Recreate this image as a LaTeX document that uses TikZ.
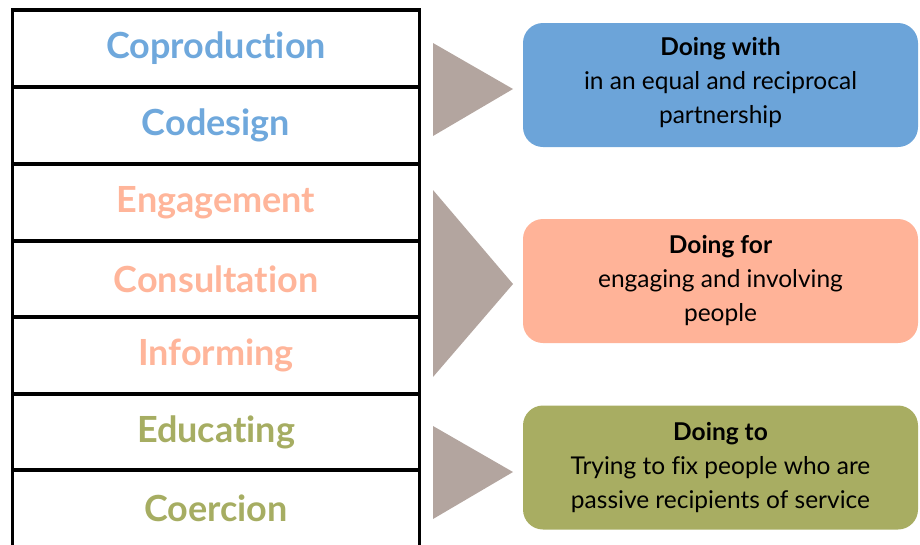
\documentclass[tikz,border=0pt]{standalone}
\usepackage{fontspec}
\setmainfont{Lato}[Ligatures=CommonOff]
\definecolor{cblue}{HTML}{6CA4D9}
\definecolor{csalmon}{HTML}{FFB398}
\definecolor{colive}{HTML}{A8AD62}
\definecolor{tblue}{HTML}{6FA8DC}
\definecolor{tsalmon}{HTML}{FFB59A}
\definecolor{tolive}{HTML}{A6AD62}
\definecolor{cgrey}{HTML}{B3A59F}
\begin{document}
\begin{tikzpicture}[x=1pt,y=-1pt,
  rowbox/.style={draw=black,line width=3.5pt,minimum width=407pt,minimum height=77pt,inner sep=0pt,
    font=\fontsize{36}{40}\selectfont\bfseries},
  groupbox/.style={rounded corners=20pt,minimum width=395pt,minimum height=124pt,inner sep=0pt},
  grouptext/.style={align=center,text=black,font=\fontsize{24.5}{34}\selectfont},
  arrowtri/.style={fill=cgrey,draw=none}]
\useasboundingbox (0,0) rectangle (920,544);
\begin{scope}
\clip (0,0) rectangle (920,544);
\node[rowbox,text=tblue] (r1) at (216,48.5) {Coproduction};
\node[rowbox,text=tblue] (r2) at (216,125.5) {Codesign};
\node[rowbox,text=tsalmon] (r3) at (216,202.5) {Engagement};
\node[rowbox,text=tsalmon] (r4) at (216,279) {Consultation};
\node[rowbox,text=tsalmon] (r5) at (216,355.5) {Informing};
\node[rowbox,text=tolive] (r6) at (216,432) {Educating};
\node[rowbox,text=tolive] (r7) at (216,508.5) {Coercion};
\end{scope}
\fill[arrowtri] (433,43) -- (433,136) -- (513,89) -- cycle;
\fill[arrowtri] (433,190) -- (433,377) -- (513,284) -- cycle;
\fill[arrowtri] (433,426) -- (433,519) -- (513,472) -- cycle;
\node[groupbox,fill=cblue] (b1) at (720.5,85) {};
\node[groupbox,fill=csalmon] (b2) at (720.5,281) {};
\node[groupbox,fill=colive] (b3) at (720.5,467.5) {};
\node[grouptext] (t1) at ([yshift=3pt]b1.center) {\textbf{Doing with}\\in an equal and reciprocal\\partnership};
\node[grouptext] (t2) at (b2.center) {\textbf{Doing for}\\engaging and involving\\people};
\node[grouptext] (t3) at (b3.center) {\textbf{Doing to}\\Trying to fix people who are\\passive recipients of service};
\end{tikzpicture}
\end{document}
